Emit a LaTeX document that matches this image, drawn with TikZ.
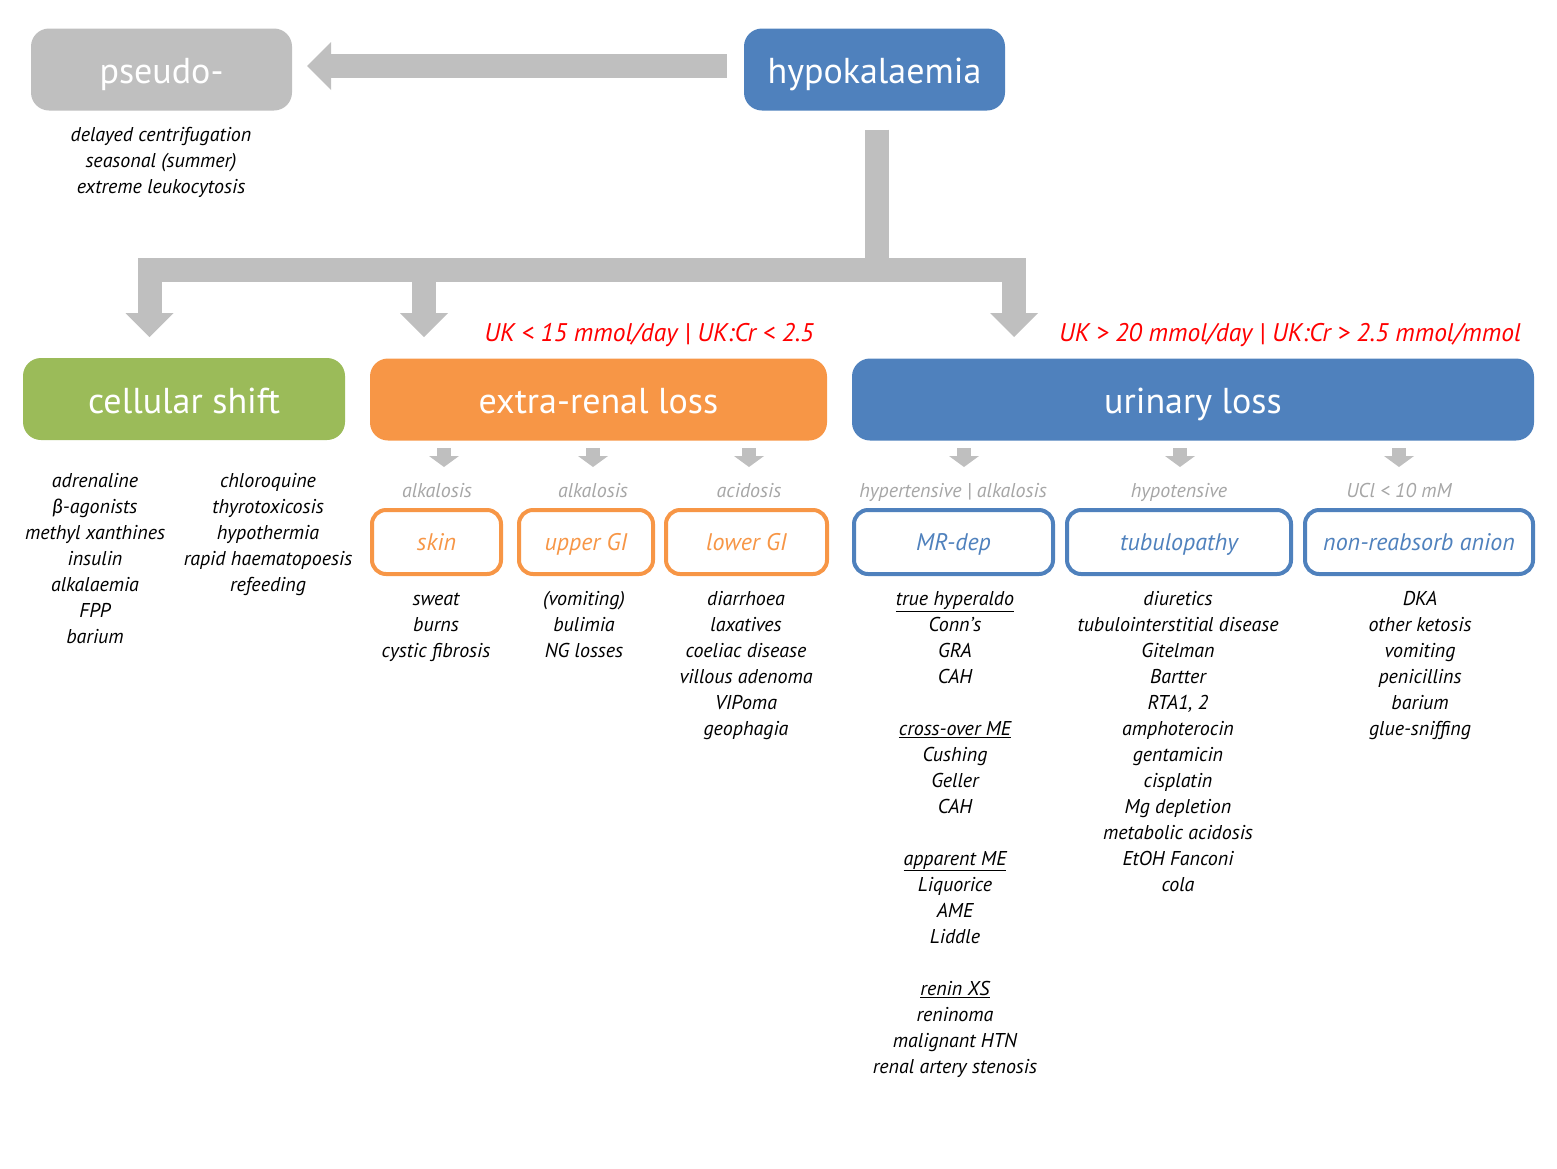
\documentclass[tikz,border=0pt]{standalone}
\usepackage{fontspec}
\setmainfont{PT Sans}
\newfontfamily\grk{Lato}
\usetikzlibrary{arrows.meta,calc}
\definecolor{cgray}{HTML}{BFBFBF}
\definecolor{cblue}{HTML}{4F81BD}
\definecolor{cgreen}{HTML}{9BBB59}
\definecolor{corange}{HTML}{F79646}
\definecolor{clabel}{HTML}{A6A6A6}
\definecolor{cred}{HTML}{FF0000}
\begin{document}
\begin{tikzpicture}[x=1pt,y=-1pt,
  bigbox/.style={rounded corners=18pt, minimum width=#1, minimum height=82pt, inner sep=0pt, text=white,
    font=\fontsize{36}{40}\selectfont, text height=32pt, text depth=4pt},
  subbox/.style={rounded corners=14pt, line width=4pt, fill=white, minimum width=#1, minimum height=64pt,
    inner sep=0pt, font=\fontsize{24}{28}\selectfont\itshape, text height=21pt, text depth=5pt},
  listtext/.style={align=center, inner sep=0pt, anchor=north, font=\fontsize{20}{26}\selectfont\itshape},
  glabel/.style={text=clabel, inner sep=0pt, anchor=base, font=\fontsize{20}{24}\selectfont\itshape},
  rlabel/.style={text=cred, inner sep=0pt, anchor=base, font=\fontsize{25.5}{28}\selectfont\itshape},
  fat/.style={draw=cgray, line width=24pt},
  fathead/.style={-{Triangle[width=48pt,length=24pt,line width=0pt]}},
  thinarrow/.style={draw=cgray, line width=14pt, -{Triangle[width=30pt,length=11pt,line width=0pt]}}
]
\useasboundingbox (0,0) rectangle (1557,1168);

% top boxes
\node[bigbox=261pt, fill=cgray] (pseudo) at (161.5,69.5) {pseudo-};
\node[bigbox=261pt, fill=cblue] (hypo) at (874.5,69.5) {hypokalaemia};

% category boxes
\node[bigbox=322pt, fill=cgreen] (cell) at (184,399) {cellular shift};
\node[bigbox=457pt, fill=corange] (extra) at (598.5,399.5) {extra-renal loss};
\node[bigbox=682pt, fill=cblue] (urin) at (1193,399.5) {urinary loss};

% arrows
\draw[fat,fathead] ($(hypo.west)+(-17,-3.5)$) -- ($(pseudo.east)+(15,-3.5)$);
\coordinate (bar) at (877,270);
\coordinate (tipL) at (149.5,337);
\coordinate (tipM) at (424,337);
\coordinate (tipR) at (1014,337);
\draw[fat] (hypo.south -| bar) ++(0,19) -- ($(bar)+(0,12)$);
\draw[fat,line join=miter,{Triangle[width=48pt,length=24pt,line width=0pt]}-{Triangle[width=48pt,length=24pt,line width=0pt]}]
  (tipL) -- (tipL |- bar) -- (tipR |- bar) -- (tipR);
\draw[fat,fathead] (tipM |- bar) -- (tipM);

% red conditions
\node[rlabel] (rl1) at (649,341) {UK < 15 mmol/day | UK:Cr < 2.5};
\node[rlabel] (rl2) at (1290,341) {UK > 20 mmol/day | UK:Cr > 2.5 mmol/mmol};

% sub boxes
\node[subbox=129pt, draw=corange, text=corange] (skin) at (436.5,542) {skin};
\node[subbox=134pt, draw=corange, text=corange] (ugi) at (586,542) {upper GI};
\node[subbox=161pt, draw=corange, text=corange] (lgi) at (746.5,542) {lower GI};
\node[subbox=199pt, draw=cblue, text=cblue] (mr) at (953.5,542) {MR-dep};
\node[subbox=224pt, draw=cblue, text=cblue] (tub) at (1179,542) {tubulopathy};
\node[subbox=228pt, draw=cblue, text=cblue] (nra) at (1419,542) {non-reabsorb anion};

% small arrows
\foreach \n/\x in {a1/444,a2/593,a3/749,a4/964,a5/1180,a6/1399}{
  \coordinate (\n s) at (\x,448);
  \coordinate (\n e) at (\x,467);
  \draw[thinarrow] (\n s) -- (\n e);
}

% gray labels
\node[glabel] (g1) at (437,497) {alkalosis};
\node[glabel] (g2) at (593,497) {alkalosis};
\node[glabel] (g3) at (749,497) {acidosis};
\node[glabel] (g4) at (953,497) {hypertensive | alkalosis};
\node[glabel] (g5) at (1179,497) {hypotensive};
\node[glabel] (g6) at (1399,497) {UCl < 10 mM};

% lists
\node[listtext] (lpseudo) at (161,122.8) {\strut delayed centrifugation\\ seasonal (summer)\\ extreme leukocytosis};
\node[listtext] (lcell1) at (95,468.8) {\strut adrenaline\\ {\grk β}-agonists\\ methyl xanthines\\ insulin\\ alkalaemia\\ FPP\\ barium};
\node[listtext] (lcell2) at (268,468.8) {\strut chloroquine\\ thyrotoxicosis\\ hypothermia\\ rapid haematopoesis\\ refeeding};
\node[listtext] (lskin) at (436,586.8) {\strut sweat\\ burns\\ cystic fibrosis};
\node[listtext] (lugi) at (584,586.8) {\strut (vomiting)\\ bulimia\\ NG losses};
\node[listtext] (llgi) at (746,586.8) {\strut diarrhoea\\ laxatives\\ coeliac disease\\ villous adenoma\\ VIPoma\\ geophagia};
\node[listtext] (lmr) at (955,586.8) {\strut \underline{true hyperaldo}\\ Conn’s\\ GRA\\ CAH\\ \mbox{}\\
  \underline{cross-over ME}\\ Cushing\\ Geller\\ CAH\\ \mbox{}\\
  \underline{apparent ME}\\ Liquorice\\ AME\\ Liddle\\ \mbox{}\\
  \underline{renin XS}\\ reninoma\\ malignant HTN\\ renal artery stenosis};
\node[listtext] (ltub) at (1178,586.8) {\strut diuretics\\ tubulointerstitial disease\\ Gitelman\\ Bartter\\ RTA1, 2\\ amphoterocin\\ gentamicin\\ cisplatin\\ Mg depletion\\ metabolic acidosis\\ EtOH Fanconi\\ cola};
\node[listtext] (lnra) at (1420,586.8) {\strut DKA\\ other ketosis\\ vomiting\\ penicillins\\ barium\\ glue-sniffing};
\end{tikzpicture}
\end{document}
